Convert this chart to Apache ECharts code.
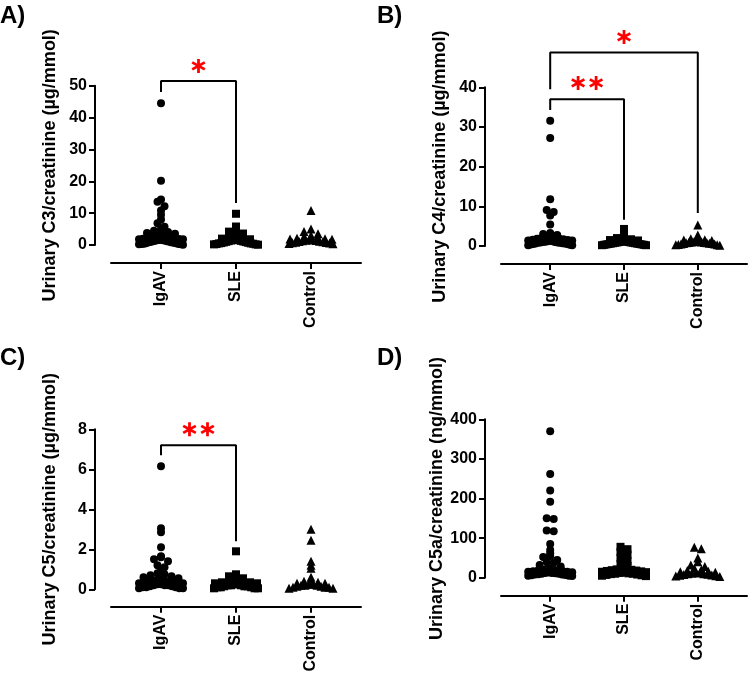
<!DOCTYPE html>
<html><head><meta charset="utf-8">
<script src="https://cdn.jsdelivr.net/npm/echarts@6/dist/echarts.min.js"></script>
<style>html,body{margin:0;padding:0;background:#fff}#c{width:750px;height:680px}</style>
</head><body><div id="c"></div><script>
// ---------- data ----------
const categories = ['IgAV', 'SLE', 'Control'];

const c3IgAV = [44.5, 20.2, 14.3, 13.6, 12.2, 10.8, 9.5, 8.0, 6.8, 5.7, 5.0, 4.5, 4.1, 3.8, 3.5, 3.2, 3.0, 2.8, 2.6, 2.5, 2.3, 2.2, 2.1, 2.0, 1.9, 1.8, 1.8, 1.7, 1.6, 1.5, 1.5, 1.4, 1.3, 1.2, 1.2, 1.1, 1.0, 0.9, 0.9, 0.8, 0.7, 0.6, 0.5, 0.5, 0.4, 0.3, 0.3, 0.2, 0.2, 0.1];
const c3SLE = [9.8, 5.8, 5.0, 4.2, 3.6, 3.0, 2.6, 2.3, 2.0, 1.8, 1.7, 1.6, 1.5, 1.4, 1.3, 1.2, 1.1, 1.0, 0.9, 0.8, 0.7, 0.6, 0.5, 0.5, 0.4, 0.3, 0.2, 0.2, 0.1];
const c3Control = [10.8, 5.0, 4.2, 3.5, 3.0, 2.6, 2.3, 2.1, 2.0, 1.9, 1.8, 1.7, 1.6, 1.5, 1.4, 1.3, 1.2, 1.1, 1.0, 0.9, 0.8, 0.7, 0.6, 0.5, 0.4];

const c4IgAV = [31.6, 27.2, 11.8, 9.1, 8.6, 7.7, 5.4, 3.3, 3.0, 2.8, 2.6, 2.4, 2.2, 2.0, 1.9, 1.8, 1.7, 1.6, 1.5, 1.4, 1.4, 1.3, 1.2, 1.2, 1.1, 1.0, 1.0, 0.9, 0.9, 0.8, 0.8, 0.7, 0.6, 0.6, 0.5, 0.5, 0.4, 0.3, 0.2, 0.2];
const c4SLE = [4.3, 3.4, 2.6, 2.0, 1.7, 1.5, 1.4, 1.3, 1.2, 1.1, 1.0, 1.0, 0.9, 0.9, 0.8, 0.8, 0.7, 0.7, 0.6, 0.6, 0.5, 0.5, 0.4, 0.4, 0.3, 0.3, 0.2, 0.2];
const c4Control = [5.3, 2.8, 2.2, 1.8, 1.6, 1.5, 1.4, 1.3, 1.2, 1.1, 1.0, 1.0, 0.9, 0.9, 0.8, 0.8, 0.7, 0.6, 0.6, 0.5, 0.5, 0.4, 0.3, 0.3, 0.2];

const c5IgAV = [6.15, 3.05, 2.85, 2.1, 1.65, 1.6, 1.5, 1.4, 1.2, 1.1, 0.9, 0.8, 0.75, 0.7, 0.65, 0.6, 0.55, 0.5, 0.5, 0.45, 0.4, 0.4, 0.35, 0.35, 0.3, 0.3, 0.3, 0.25, 0.25, 0.2, 0.2, 0.2, 0.15, 0.15, 0.1, 0.1, 0.1, 0.05, 0.05, 0.05];
const c5SLE = [1.9, 0.75, 0.65, 0.55, 0.5, 0.45, 0.4, 0.35, 0.35, 0.3, 0.3, 0.25, 0.25, 0.2, 0.2, 0.2, 0.15, 0.15, 0.15, 0.1, 0.1, 0.1, 0.05, 0.05, 0.05];
const c5Control = [3.0, 2.45, 1.4, 1.2, 1.05, 0.6, 0.5, 0.4, 0.35, 0.3, 0.3, 0.25, 0.25, 0.2, 0.2, 0.2, 0.15, 0.15, 0.1, 0.1, 0.1, 0.05, 0.05];

const c5aIgAV = [370, 262, 220, 192, 150, 148, 119, 117, 85, 70, 62, 55, 52, 45, 40, 38, 32, 28, 25, 22, 20, 19, 18, 17, 16, 15, 15, 14, 13, 12, 12, 11, 10, 10, 9, 8, 8, 7, 6, 5, 5, 4];
const c5aSLE = [78, 72, 65, 58, 50, 42, 35, 30, 26, 23, 21, 20, 19, 18, 17, 16, 15, 14, 13, 12, 11, 10, 10, 9, 8, 7, 6, 5, 4];
const c5aControl = [77, 73, 50, 40, 32, 28, 24, 20, 18, 16, 15, 14, 13, 12, 11, 10, 10, 9, 8, 7, 6, 5, 4, 3];

// significance brackets (x = group position, y = axis value)
const bracketA = [[1, 48.0], [1, 51.5], [2, 51.5], [2, 13.2]];
const starsA = [[1.5, 56.2, 1]];
const bracketB1 = [[1, 39.5], [1, 48.8], [3, 48.8], [3, 8.3]];
const bracketB2 = [[1, 34.3], [1, 37.0], [2, 37.0], [2, 6.6]];
const starsB = [[2, 52.7, 1], [1.5, 41.1, 2]];
const bracketC = [[1, 6.7], [1, 7.2], [2, 7.2], [2, 2.4]];
const starsC = [[1.5, 8.0, 2]];

const yTitles = ['Urinary C3/creatinine (µg/mmol)', 'Urinary C4/creatinine (µg/mmol)', 'Urinary C5/creatinine (µg/mmol)', 'Urinary C5a/creatinine (ng/mmol)'];
const panelLetters = ['A)', 'B)', 'C)', 'D)'];
const yMax = [50, 40, 8, 400];
const yStep = [10, 10, 2, 100];

// ---------- layout ----------
const FONT = 'Liberation Sans';
const panels = [
  { left: 111, top: 85.7, width: 250, height: 159.3, xOff: 18, groups: [c3IgAV, c3SLE, c3Control], brackets: [bracketA], stars: starsA, lx: 0, ly: 4 },
  { left: 501, top: 87.3, width: 246, height: 158.7, xOff: 18, groups: [c4IgAV, c4SLE, c4Control], brackets: [bracketB1, bracketB2], stars: starsB, lx: 377, ly: 4 },
  { left: 111, top: 429.3, width: 250, height: 160, xOff: 17.4, groups: [c5IgAV, c5SLE, c5Control], brackets: [bracketC], stars: starsC, lx: 0, ly: 346 },
  { left: 501, top: 419.3, width: 246, height: 158.4, xOff: 18, groups: [c5aIgAV, c5aSLE, c5aControl], brackets: [], stars: [], lx: 377, ly: 346 }
];
const XMIN = 1 / 3, XMAX = 11 / 3;
const symbols = ['circle', 'rect', 'triangle'];
const symSizes = [8, 8, 9];

// asterisk symbol (6 arms)
function asteriskPath() {
  const L = 50, w = 19;
  let d = '';
  [90, 30, -30].forEach(a => {
    const r = a * Math.PI / 180, ux = Math.cos(r), uy = Math.sin(r), px = -uy, py = ux;
    const pts = [[L*ux + w/2*px, L*uy + w/2*py], [L*ux - w/2*px, L*uy - w/2*py], [-L*ux - w/2*px, -L*uy - w/2*py], [-L*ux + w/2*px, -L*uy + w/2*py]];
    d += 'M' + pts.map(p => (p[0] + 60).toFixed(2) + ' ' + (p[1] + 60).toFixed(2)).join(' L') + ' Z ';
  });
  return 'path://' + d;
}
const STAR = asteriskPath();

// scatter-dot-plot layout: bin by pixel row, spread points side by side within a max width
function rowLayout(values, pxY, rowH, maxHalf, spacing) {
  const rows = {};
  values.forEach((v, i) => { const r = Math.floor(v * pxY / rowH); (rows[r] = rows[r] || []).push(i); });
  const out = new Array(values.length);
  Object.keys(rows).forEach(key => {
    const ids = rows[key], n = ids.length;
    const s = n > 1 ? Math.min(spacing, 2 * maxHalf / (n - 1)) : 0;
    const order = ids.slice().sort((a, b) => values[b] - values[a]);
    const slots = [];
    for (let j = 0; j < n; j++) slots.push((j - (n - 1) / 2) * s);
    slots.sort((a, b) => Math.abs(a) - Math.abs(b) || a - b);
    order.forEach((id, j) => { out[id] = slots[j]; });
  });
  return out;
}

const grids = [], xAxes = [], yAxes = [], series = [], graphics = [];
panels.forEach((p, k) => {
  grids.push({ left: p.left, top: p.top, width: p.width, height: p.height });
  xAxes.push({
    type: 'value', gridIndex: k, min: XMIN, max: XMAX, position: 'bottom', offset: p.xOff,
    axisLine: { show: true, onZero: false, lineStyle: { color: '#000', width: 2 } },
    axisTick: { show: true, customValues: [1, 2, 3], length: 6, lineStyle: { color: '#000', width: 2 } },
    axisLabel: { customValues: [1, 2, 3], formatter: v => categories[Math.round(v) - 1] || '', rotate: 90, margin: 8, color: '#000', fontWeight: 'bold', fontSize: 16, fontFamily: FONT },
    splitLine: { show: false }
  });
  yAxes.push({
    type: 'value', gridIndex: k, min: 0, max: yMax[k], interval: yStep[k], offset: 16,
    name: yTitles[k], nameLocation: 'middle', nameGap: 36,
    nameTextStyle: { color: '#000', fontWeight: 'bold', fontSize: 18, fontFamily: FONT },
    axisLine: { show: true, lineStyle: { color: '#000', width: 2 } },
    axisTick: { show: true, length: 6, lineStyle: { color: '#000', width: 2 } },
    axisLabel: { color: '#000', fontWeight: 'bold', fontSize: 16, fontFamily: FONT, margin: 8 },
    splitLine: { show: false }
  });
  const pxX = p.width / (XMAX - XMIN), pxY = p.height / yMax[k];
  p.groups.forEach((vals, g) => {
    const off = rowLayout(vals, pxY, 5.5, 22, 7);
    series.push({
      type: 'scatter', xAxisIndex: k, yAxisIndex: k, symbol: symbols[g], symbolSize: symSizes[g],
      itemStyle: { color: '#000', opacity: 1 }, silent: true, clip: false,
      data: vals.map((v, i) => [g + 1 + off[i] / pxX, v])
    });
  });
  p.brackets.forEach(b => series.push({
    type: 'line', xAxisIndex: k, yAxisIndex: k, data: b, showSymbol: false, symbol: 'none', clip: false,
    lineStyle: { color: '#000', width: 2 }, silent: true
  }));
  p.stars.forEach(s => {
    const n = s[2];
    const offs = n === 1 ? [0] : [-9, 9];
    offs.forEach(o => series.push({
      type: 'scatter', xAxisIndex: k, yAxisIndex: k, symbol: STAR, symbolSize: 14, symbolOffset: [o, 0], clip: false,
      itemStyle: { color: '#ff0000', opacity: 1 }, silent: true, data: [[s[0], s[1]]]
    }));
  });
  graphics.push({ type: 'text', left: p.lx, top: p.ly, style: { text: panelLetters[k], font: 'bold 24px "Liberation Sans"', fill: '#000' } });
});

const chart = echarts.init(document.getElementById('c'), null, { renderer: 'canvas' });
chart.setOption({
  backgroundColor: '#fff', animation: false,
  grid: grids, xAxis: xAxes, yAxis: yAxes, series: series, graphic: graphics
});
</script></body></html>
